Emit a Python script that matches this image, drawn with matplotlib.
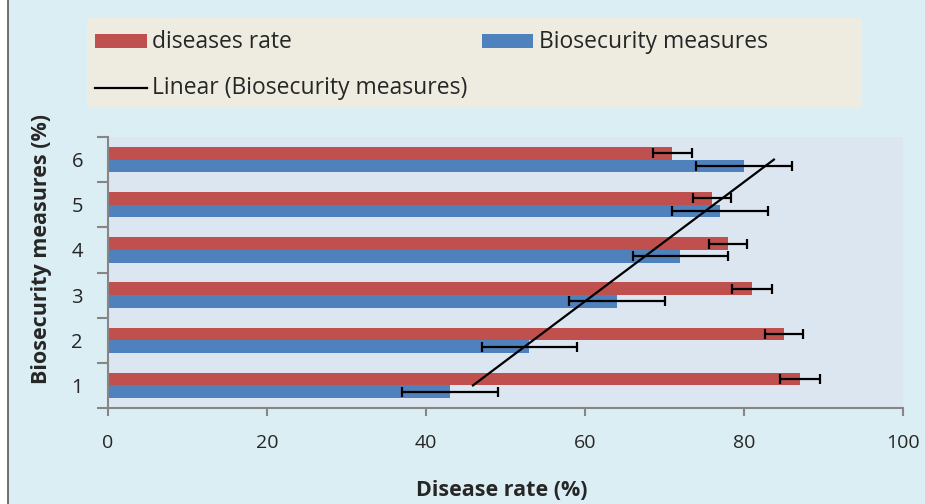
import numpy as np
import matplotlib
matplotlib.use("Agg")
import matplotlib.pyplot as plt
from matplotlib.patches import Rectangle
from matplotlib.lines import Line2D
from matplotlib.ticker import FixedLocator

plt.rcParams['font.family'] = ['Open Sans', 'DejaVu Sans']

categories = [1, 2, 3, 4, 5, 6]
disease_rate = [87, 85, 81, 78, 76, 71]
disease_err = [2.5, 2.4, 2.5, 2.4, 2.4, 2.5]
biosecurity = [43, 53, 64, 72, 77, 80]
bio_err = [6, 6, 6, 6, 6, 6]
x_ticks = [0, 20, 40, 60, 80, 100]
legend_labels = ['diseases rate', 'Biosecurity measures', 'Linear (Biosecurity measures)']

RED = '#C0504D'
BLUE = '#4F81BD'
AXC = '#868686'
TXT = '#262626'

W, H = 925, 504
fig = plt.figure(figsize=(W / 100, H / 100), dpi=100, facecolor='white')
T = fig.transFigure


def fx(px):
    return px / W


def fy(py):
    return 1 - py / H


fig.patches.append(Rectangle((fx(8), -0.2), 1.2, 1.2 + fy(12), transform=T,
                             facecolor='#DBEEF3', edgecolor='#595959', lw=1.2, zorder=-10))

ax = fig.add_axes([fx(108), fy(408), (903 - 108) / W, 271 / H])
ax.set_facecolor('#DCE6F1')

y = np.array(categories, dtype=float)
h = 0.28
ax.barh(y + h / 2, disease_rate, height=h, color=RED, zorder=2)
ax.barh(y - h / 2, biosecurity, height=h, color=BLUE, zorder=2)
ax.errorbar(disease_rate, y + h / 2, xerr=disease_err, fmt='none', ecolor='black',
            elinewidth=1.6, capsize=3.5, capthick=1.6, zorder=3)
ax.errorbar(biosecurity, y - h / 2, xerr=bio_err, fmt='none', ecolor='black',
            elinewidth=1.6, capsize=3.5, capthick=1.6, zorder=3)

coef = np.polyfit(y, biosecurity, 1)
yy = np.array([y[0], y[-1]])
ax.plot(np.polyval(coef, yy), yy, color='black', lw=1.6, zorder=4)

ax.set_xlim(0, 100)
ax.set_ylim(0.5, 6.5)
ax.set_xticks(x_ticks)
ax.set_xticklabels([str(v) for v in x_ticks], fontsize=14, color=TXT)
ax.yaxis.set_major_locator(FixedLocator(np.arange(0.5, 7, 1)))
ax.set_yticklabels([])
ax.yaxis.set_minor_locator(FixedLocator(y))
ax.set_yticklabels([str(c) for c in categories], minor=True, fontsize=14.5, color=TXT)
ax.tick_params(axis='y', which='major', length=8, width=1.5, color=AXC, direction='out')
ax.tick_params(axis='y', which='minor', length=0, pad=18)
ax.tick_params(axis='x', which='major', length=6, width=1.5, color=AXC, direction='out', pad=13)
for s in ['top', 'right']:
    ax.spines[s].set_visible(False)
for s in ['left', 'bottom']:
    ax.spines[s].set_color(AXC)
    ax.spines[s].set_linewidth(1.5)

fig.text(fx(502), fy(490), 'Disease rate (%)', ha='center', va='center',
         fontsize=15.5, fontweight='bold', color=TXT)
fig.text(fx(42), fy(249), 'Biosecurity measures (%)', ha='center', va='center',
         rotation=90, fontsize=15.5, fontweight='bold', color=TXT)

# legend box
fig.patches.append(Rectangle((fx(87), fy(108)), (862 - 87) / W, 90 / H, transform=T,
                             facecolor='#EEECE1', edgecolor='none', zorder=1))
fig.patches.append(Rectangle((fx(95), fy(48)), 52 / W, 14 / H, transform=T,
                             facecolor=RED, edgecolor='none', zorder=2))
fig.patches.append(Rectangle((fx(482), fy(48)), 51 / W, 14 / H, transform=T,
                             facecolor=BLUE, edgecolor='none', zorder=2))
fig.lines.append(Line2D([fx(95), fx(147)], [fy(88), fy(88)], transform=T,
                        color='black', lw=1.6, zorder=2))
fig.text(fx(152), fy(42), legend_labels[0], ha='left', va='center', fontsize=16.5, color=TXT)
fig.text(fx(539), fy(42), legend_labels[1], ha='left', va='center', fontsize=16.5, color=TXT)
fig.text(fx(152), fy(88), legend_labels[2], ha='left', va='center', fontsize=16.5, color=TXT)

fig.savefig('out.png', dpi=100, facecolor='white')
